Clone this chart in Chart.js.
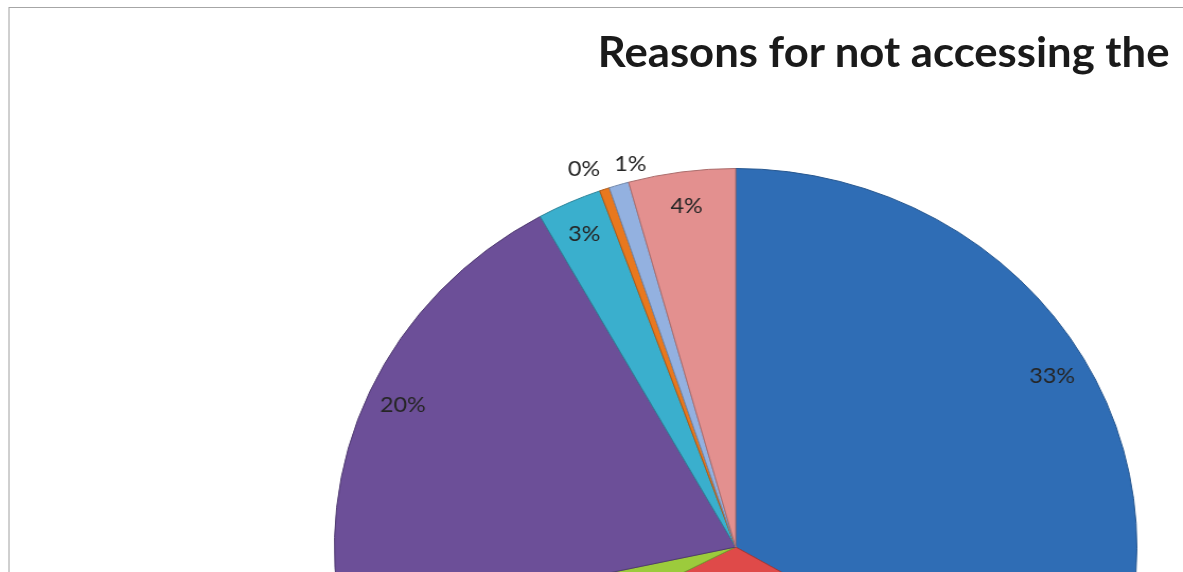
<!DOCTYPE html>
<html>
<head>
<meta charset="utf-8">
<script src="https://cdn.jsdelivr.net/npm/chart.js@4.4.1/dist/chart.umd.min.js"></script>
<style>
    html, body { margin: 0; padding: 0; background: #fff; }
    body { width: 1183px; height: 572px; overflow: hidden; position: relative; }
    #stage {
        position: absolute; left: 0; top: 0;
        width: 1116px; height: 572px;
        transform: scaleX(1.06); transform-origin: 0 0;
    }
    #frame {
        position: absolute; left: 7.5px; top: 7px; width: 1200px; height: 700px;
        border: 1px solid #a6a6a6;
    }
    #title {
        position: absolute; left: 564px; top: 26px;
        font: bold 41.2px Lato, "Open Sans", sans-serif; color: #1a1a1a;
        white-space: nowrap;
    }
    #chartBox { position: absolute; left: 265.3px; top: 118px; width: 858px; height: 858px; }
</style>
</head>
<body>
<div id="stage">
    <div id="frame"></div>
    <div id="title">Reasons for not accessing the</div>
    <div id="chartBox"><canvas id="pieChart"></canvas></div>
</div>
<script>
// slices, clockwise from 12 o'clock
const categories = ['Reason 1', 'Reason 2', 'Reason 3', 'Reason 4', 'Reason 5', 'Reason 6', 'Reason 7', 'Reason 8'];
const shares = [33.4, 34.0, 4.2, 20.3, 2.6, 0.4, 0.8, 4.3];
const sliceColors = ['#2f6db5', '#df4a49', '#9ccb3c', '#6c4f98', '#3aafcd', '#e8781e', '#93b1e0', '#e3908f'];
const edgeColors = ['#25568f', '#a83635', '#759a2c', '#4f3a70', '#2b8399', '#ad5a16', '#6f86aa', '#aa6c6b'];

const total = shares.reduce((a, b) => a + b, 0);

const pctLabels = {
    id: 'pctLabels',
    afterDatasetsDraw(chart) {
        const ctx = chart.ctx;
        const meta = chart.getDatasetMeta(0);
        let outsideCount = 0;
        ctx.save();
        ctx.font = '22px Lato, "Open Sans", sans-serif';
        ctx.fillStyle = '#262626';
        ctx.textBaseline = 'middle';
        meta.data.forEach((arc, i) => {
            const { x, y, startAngle, endAngle, outerRadius } =
                arc.getProps(['x', 'y', 'startAngle', 'endAngle', 'outerRadius'], true);
            const pct = shares[i] / total * 100;
            const text = Math.round(pct) + '%';
            const mid = (startAngle + endAngle) / 2;
            if (pct < 1.5) {
                const r = outerRadius + 22;
                const lx = x + Math.cos(mid) * r;
                const ly = y + Math.sin(mid) * r;
                if (outsideCount % 2 === 0) {
                    ctx.textAlign = 'right';
                    ctx.fillText(text, lx + 3, ly);
                } else {
                    ctx.textAlign = 'left';
                    ctx.fillText(text, lx + 2, ly);
                }
                outsideCount++;
            } else {
                const r = outerRadius * 0.91;
                ctx.textAlign = 'center';
                ctx.fillText(text, x + Math.cos(mid) * r, y + Math.sin(mid) * r);
            }
        });
        ctx.restore();
    }
};

new Chart(document.getElementById('pieChart'), {
    type: 'pie',
    data: {
        labels: categories,
        datasets: [{
            data: shares,
            backgroundColor: sliceColors,
            borderColor: edgeColors,
            borderWidth: 1
        }]
    },
    options: {
        responsive: true,
        maintainAspectRatio: false,
        animation: false,
        layout: { padding: 50 },
        plugins: {
            legend: { display: false },
            tooltip: { enabled: false },
            title: { display: false }
        }
    },
    plugins: [pctLabels]
});
</script>
</body>
</html>
